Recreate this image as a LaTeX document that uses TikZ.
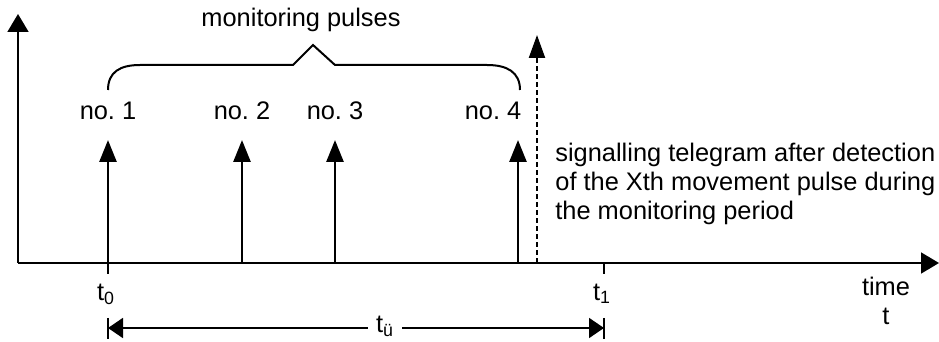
\documentclass[tikz,border=0pt]{standalone}
\usepackage{fontspec}
\setmainfont{Liberation Sans}
\usepackage{tikz}
\usetikzlibrary{arrows.meta}
\usetikzlibrary{positioning}
\frenchspacing
\tikzset{axis/.style = {line width = 0.9pt,
                        -{Triangle[length = 9pt, width = 10.5pt]}}}
\tikzset{pulse/.style = {line width = 1.35pt,
                         -{Triangle[length = 11pt, width = 8.5pt]}}}
\tikzset{telegram/.style = {line width = 1.1pt, dash pattern = on 2.5pt off 1.5pt,
                            -{Triangle[length = 11.5pt, width = 8pt]}}}
\tikzset{dimen/.style = {line width = 0.9pt,
                         -{Triangle[length = 7.5pt, width = 10pt]}}}
\tikzset{lbl/.style = {font = \fontsize{12.7}{14.5}\selectfont, inner sep = 0}}

\begin{document}
\begin{tikzpicture}[x = 0.5pt, y = -0.5pt]
      \useasboundingbox (0, 0) rectangle (939, 342);

      \coordinate (origin) at (18, 263);
      \coordinate (ytip) at (18, 14);
      \coordinate (xtip) at (939, 263);
      \draw [axis] (origin) -- (ytip);
      \draw [axis] (origin) -- (xtip);

      % the four monitoring pulses
      \foreach \x/\lx/\n in {108/108/1, 242/242/2, 335/335/3, 518/493/4} {
        \coordinate (base\n) at (\x, 263);
        \coordinate (tip\n) at (\x, 140);
        \draw [pulse] (base\n) -- (tip\n);
        \node [lbl, anchor = base] (no\n) at (\lx, 120) {no. \n};
      }

      % brace over the pulses
      \draw [line width = 1pt] (108, 90) .. controls (108, 72) and (120, 65) .. (140, 65)
            -- (293, 65) -- (313, 45) -- (335, 65) -- (487, 65)
            .. controls (507, 65) and (520, 72) .. (520, 90);
      \node [lbl, anchor = base] (mon) at (301, 27) {monitoring pulses};

      % signalling telegram
      \coordinate (telbase) at (537, 263);
      \coordinate (teltip) at (537, 35);
      \draw [telegram] (telbase) -- (teltip);
      \node [lbl, anchor = base west, align = left] (tel) at (555, 220)
            {signalling telegram after detection\\of the Xth movement pulse during\\the monitoring period};

      % time marks
      \coordinate (t0) at (108, 263);
      \coordinate (t1) at (604, 263);
      \draw [line width = 1.4pt] (t0) -- ++(0, 11);
      \draw [line width = 1.4pt] (t1) -- ++(0, 11);
      \node [lbl, anchor = base] (t0lbl) at (106, 300) {t\textsubscript{0}};
      \node [lbl, anchor = base] (t1lbl) at (602, 300) {t\textsubscript{1}};
      \node [lbl, anchor = base, align = center] (time) at (886, 325) {time\\t};

      % monitoring period
      \coordinate (dl) at (108, 328);
      \coordinate (dr) at (604, 328);
      \draw [line width = 1.4pt] (108, 318) -- (108, 339);
      \draw [line width = 1.4pt] (604, 318) -- (604, 339);
      \node [lbl, anchor = base, inner xsep = 4pt] (tue) at (385, 333) {t\textsubscript{ü}};
      \draw [dimen] (tue.west |- dl) -- (dl);
      \draw [dimen] (tue.east |- dr) -- (dr);
    \end{tikzpicture}
\end{document}
